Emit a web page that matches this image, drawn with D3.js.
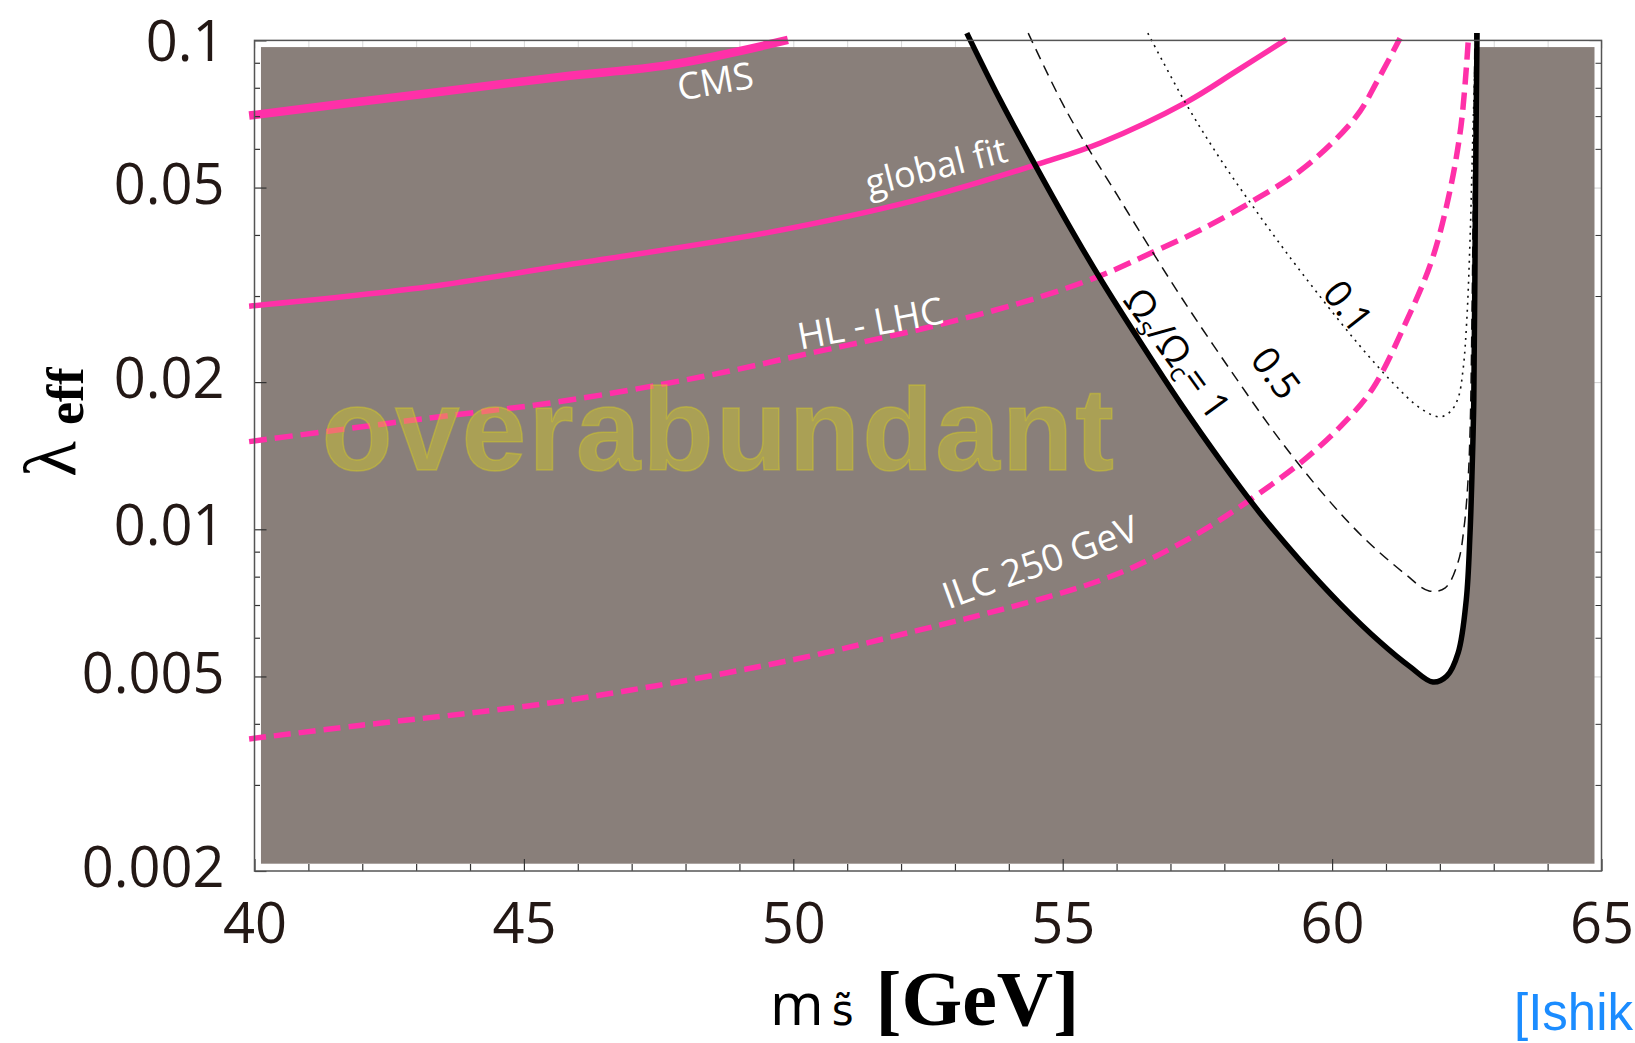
<!DOCTYPE html>
<html>
  <head>
    <meta charset="utf-8" />
    <title>Relic abundance vs lambda_eff</title>
    <script src="https://cdn.jsdelivr.net/npm/d3@7"></script>
    <style>
      body { margin: 0; background: #fff; }
      svg { display: block; }
    </style>
  </head>
  <body>
    <svg class="plot"></svg>
    <script>
      // ticks
      const mass_ticks = [40, 45, 50, 55, 60, 65]
      const mass_minor = [41, 42, 43, 44, 46, 47, 48, 49, 51, 52, 53, 54, 56, 57, 58, 59, 61, 62, 63, 64]
      const lambda_ticks = [0.1, 0.05, 0.02, 0.01, 0.005, 0.002]
      const lambda_labels = ["0.1", "0.05", "0.02", "0.01", "0.005", "0.002"]
      const lambda_minor = [0.09, 0.08, 0.07, 0.06, 0.04, 0.03, 0.009, 0.008, 0.007, 0.006, 0.004, 0.003]

      // pink bounds / reaches, [m (GeV), lambda_eff]
      const cms = [[39.9, 0.0702], [43.2, 0.0779], [45.7, 0.0843], [47.7, 0.0891], [49.9, 0.1002]]
      const global_fit = [[39.9, 0.0286], [43.2, 0.0313], [45.7, 0.0346], [49.5, 0.0404], [52.3, 0.0472],
        [54.6, 0.0561], [55.7, 0.0617], [57.3, 0.0748], [58.2, 0.0862], [59.15, 0.1005]]
      const hl_lhc = [[39.9, 0.01511], [43.23, 0.01688], [45.67, 0.01825], [48.32, 0.02053], [50.31, 0.02292],
        [52.3, 0.02557], [54.28, 0.02918], [55.69, 0.03298], [56.64, 0.03674], [57.59, 0.04114],
        [58.53, 0.04694], [59.5, 0.0551], [60.44, 0.06969], [60.85, 0.083], [61.26, 0.101]]
      const ilc_250 = [[39.9, 0.003726], [41.9, 0.003963], [45.67, 0.004445], [49.98, 0.005405],
        [52.35, 0.006226], [53.84, 0.006842], [55.34, 0.007621], [56.32, 0.008375], [57.59, 0.009924],
        [58.5, 0.01154], [59.48, 0.01387], [60.22, 0.0165], [60.76, 0.01946], [61.39, 0.02681],
        [61.84, 0.03522], [62.15, 0.04717], [62.39, 0.0665], [62.53, 0.101]]

      // relic abundance contours, Omega_s / Omega_c
      const omega_1 = [[53.22, 0.1035], [53.84, 0.0755], [54.49, 0.05559], [55.08, 0.04251], [55.69, 0.03266],
        [56.44, 0.02416], [57.18, 0.01814], [57.92, 0.01387], [58.66, 0.0108], [59.41, 0.00862],
        [60.15, 0.00704], [60.89, 0.00588], [61.45, 0.00523], [61.87, 0.00487], [62.13, 0.00501],
        [62.34, 0.00559], [62.49, 0.00717], [62.56, 0.00983], [62.6, 0.01341], [62.63, 0.01839],
        [62.66, 0.0472], [62.69, 0.1035]]
      const omega_05 = [[54.36, 0.1035], [55.08, 0.07138], [56.01, 0.04829], [56.62, 0.03762], [57.21, 0.02972],
        [58.11, 0.02119], [59.03, 0.01524], [59.85, 0.01176], [60.59, 0.0096], [61.35, 0.00811],
        [61.8, 0.00748], [62.1, 0.00759], [62.34, 0.00858], [62.45, 0.01011], [62.52, 0.01244],
        [62.56, 0.01575], [62.6, 0.02944], [62.65, 0.1035]]
      const omega_01 = [[56.58, 0.1035], [57.27, 0.07482], [57.9, 0.05774], [58.55, 0.04544], [59.24, 0.03573],
        [59.87, 0.02904], [60.5, 0.02383], [61.13, 0.01992], [61.63, 0.01771], [61.99, 0.01698],
        [62.19, 0.01738], [62.34, 0.01857], [62.43, 0.02119], [62.5, 0.02681], [62.56, 0.03907],
        [62.62, 0.06873], [62.67, 0.1035]]

      // shaded (overabundant) box before the allowed region is cut out
      const shaded_mass = [40.12, 64.87]
      const shaded_lambda = [0.00207, 0.0969]

      const width = 1635
      const height = 1043
      const frame = {left: 254.5, right: 1601.5, top: 40.4, bottom: 871}

      const pink = "#ff30a8"
      const grey = "#897f7a"
      const ink = "#231815"
      const sans = "'Open Sans', 'DejaVu Sans', sans-serif"

      const x = d3.scaleLinear().domain([40, 65]).range([frame.left, frame.right])
      const y = d3.scaleLog().domain([0.002, 0.1]).range([frame.bottom, frame.top])

      const line = d3.line()
        .x(d => x(d[0]))
        .y(d => y(d[1]))
        .curve(d3.curveCatmullRom.alpha(0.5))

      const svg = d3.select("svg.plot")
        .attr("width", width)
        .attr("height", height)
        .attr("viewBox", [0, 0, width, height])

      // faint ticks on top / right, mostly hidden under the shading
      svg.append("g")
        .attr("transform", `translate(0,${frame.top})`)
        .call(d3.axisTop(x).tickValues(mass_ticks.concat(mass_minor)).tickFormat("").tickSize(-8))
        .call(g => g.select(".domain").remove())
        .call(g => g.selectAll("line").attr("stroke", "#d8d8d8"))
      svg.append("g")
        .attr("transform", `translate(${frame.right},0)`)
        .call(d3.axisRight(y).tickValues(lambda_minor).tickFormat("").tickSize(-6))
        .call(g => g.select(".domain").remove())
        .call(g => g.selectAll("line").attr("stroke", "#333"))
      svg.append("g")
        .attr("transform", `translate(${frame.right},0)`)
        .call(d3.axisRight(y).tickValues(lambda_ticks).tickFormat("").tickSize(-12))
        .call(g => g.select(".domain").remove())
        .call(g => g.selectAll("line").attr("stroke", "#d0d0d0"))

      // overabundant shading with the allowed window cut out in white
      svg.append("rect")
        .attr("x", x(shaded_mass[0]))
        .attr("y", y(shaded_lambda[1]))
        .attr("width", x(shaded_mass[1]) - x(shaded_mass[0]))
        .attr("height", y(shaded_lambda[0]) - y(shaded_lambda[1]))
        .attr("fill", grey)
      svg.append("path")
        .attr("d", line(omega_1) + "Z")
        .attr("fill", "#fff")

      // pink curves
      const curves = [
        {data: cms, width: 8.5, dash: null},
        {data: global_fit, width: 5.5, dash: null},
        {data: hl_lhc, width: 5.5, dash: "18,8"},
        {data: ilc_250, width: 5.5, dash: "17,8"},
      ]
      svg.append("g")
        .selectAll("path")
        .data(curves)
        .join("path")
          .attr("d", d => line(d.data))
          .attr("fill", "none")
          .attr("stroke", pink)
          .attr("stroke-width", d => d.width)
          .attr("stroke-dasharray", d => d.dash)

      // abundance contours
      svg.append("path")
        .attr("d", line(omega_05))
        .attr("fill", "none")
        .attr("stroke", "#111")
        .attr("stroke-width", 1.5)
        .attr("stroke-dasharray", "11,7")
      svg.append("path")
        .attr("d", line(omega_01))
        .attr("fill", "none")
        .attr("stroke", "#111")
        .attr("stroke-width", 1.6)
        .attr("stroke-dasharray", "2,5")
      svg.append("path")
        .attr("d", line(omega_1))
        .attr("fill", "none")
        .attr("stroke", "#000")
        .attr("stroke-width", 5.5)
        .attr("stroke-linejoin", "round")

      // big watermark-like label
      svg.append("text")
        .attr("x", x(41.25))
        .attr("y", y(0.01322))
        .attr("textLength", x(55.95) - x(41.25))
        .attr("lengthAdjust", "spacing")
        .style("font-family", "'Liberation Sans', Arial, sans-serif")
        .style("font-weight", "bold")
        .style("font-size", "116px")
        .attr("fill", "#dcd21e")
        .attr("fill-opacity", 0.4)
        .attr("stroke", "#dcd21e")
        .attr("stroke-opacity", 0.4)
        .attr("stroke-width", 1.5)
        .text("overabundant")

      const label = function(text, m, lam, angle, color, size) {
        return svg.append("text")
          .attr("transform", `translate(${x(m)},${y(lam)}) rotate(${angle})`)
          .attr("text-anchor", "middle")
          .attr("dy", "0.36em")
          .style("font-family", sans)
          .style("font-size", size + "px")
          .attr("fill", color)
          .text(text)
      }

      label("CMS", 48.55, 0.0826, -10, "#fff", 37)
      label("global fit", 52.65, 0.0553, -14, "#fff", 36)
      label("HL - LHC", 51.43, 0.0264, -10.5, "#fff", 37)
      label("ILC 250 GeV", 54.58, 0.00858, -20, "#fff", 37)
      label("0.5", 58.96, 0.0209, 53, "#000", 38)
      label("0.1", 60.30, 0.0286, 52, "#000", 38)

      const omega_label = label("", 57.13, 0.0229, 54, "#000", 38)
      omega_label.append("tspan").text("Ω")
      omega_label.append("tspan").text("s").style("font-size", "26px").attr("dy", 6)
      omega_label.append("tspan").text("/Ω").attr("dy", -6)
      omega_label.append("tspan").text("c").style("font-size", "26px").attr("dy", 6)
      omega_label.append("tspan").text("= 1").attr("dy", -6)

      // axes: labelled majors + short minors on left and bottom
      const style_axis = g => g
        .call(g => g.select(".domain").remove())
        .call(g => g.selectAll("line").attr("stroke", "#333").attr("stroke-width", 1.2))
        .call(g => g.selectAll("text")
          .style("font-family", sans)
          .style("font-size", "56px")
          .attr("fill", ink))

      svg.append("g")
        .attr("transform", `translate(${frame.left},0)`)
        .call(d3.axisLeft(y).tickValues(lambda_ticks)
          .tickFormat((d, i) => lambda_labels[i])
          .tickSizeInner(-12).tickSizeOuter(0).tickPadding(30))
        .call(style_axis)
        .call(g => g.selectAll("text").attr("dy", d => d === 0.1 ? "0.36em" : "0.28em"))
      svg.append("g")
        .attr("transform", `translate(${frame.left},0)`)
        .call(d3.axisLeft(y).tickValues(lambda_minor).tickFormat("").tickSize(-5.5))
        .call(style_axis)

      svg.append("g")
        .attr("transform", `translate(0,${frame.bottom})`)
        .call(d3.axisBottom(x).tickValues(mass_ticks)
          .tickSizeInner(-12).tickSizeOuter(0).tickPadding(32))
        .call(style_axis)
      svg.append("g")
        .attr("transform", `translate(0,${frame.bottom})`)
        .call(d3.axisBottom(x).tickValues(mass_minor).tickFormat("").tickSize(-7))
        .call(style_axis)

      svg.append("rect")
        .attr("x", frame.left)
        .attr("y", frame.top)
        .attr("width", frame.right - frame.left)
        .attr("height", frame.bottom - frame.top)
        .attr("fill", "none")
        .attr("stroke", "#555")
        .attr("stroke-width", 1.5)

      // axis titles
      const y_title = svg.append("text")
        .attr("transform", "translate(75,477) rotate(-90)")
        .attr("fill", "#000")
      y_title.append("tspan")
        .style("font-family", "'Liberation Serif', serif")
        .style("font-size", "74px")
        .text("λ")
      y_title.append("tspan")
        .attr("dx", 16)
        .attr("dy", 8)
        .style("font-family", "'Liberation Serif', serif")
        .style("font-weight", "bold")
        .style("font-size", "52px")
        .text("eff")

      const x_title = svg.append("text")
        .attr("x", 770)
        .attr("y", 1025)
        .attr("fill", "#000")
      x_title.append("tspan")
        .style("font-family", sans)
        .style("font-size", "58px")
        .text("m")
      x_title.append("tspan")
        .attr("dx", 8)
        .style("font-family", "'DejaVu Sans', sans-serif")
        .style("font-size", "42px")
        .text("s\u0303")
      x_title.append("tspan")
        .attr("dx", 22)
        .style("font-family", "'Liberation Serif', serif")
        .style("font-weight", "bold")
        .style("font-size", "78px")
        .text("[GeV]")

      svg.append("text")
        .attr("x", 1514)
        .attr("y", 1030)
        .style("font-family", "'Liberation Sans', Arial, sans-serif")
        .style("font-size", "51px")
        .attr("fill", "#1b8cff")
        .text("[Ishik")
    </script>
  </body>
</html>
